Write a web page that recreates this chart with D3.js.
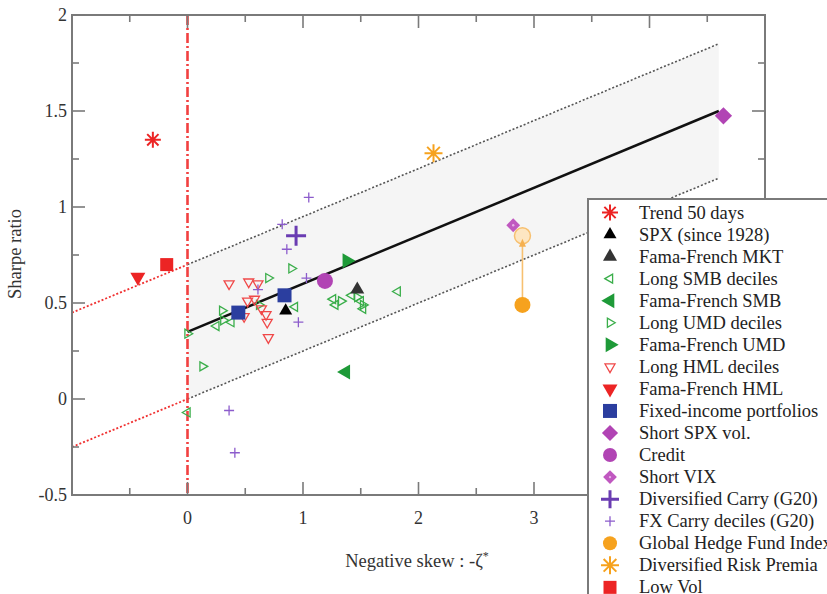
<!DOCTYPE html>
<html><head><meta charset="utf-8">
<script src="https://cdn.jsdelivr.net/npm/d3@7"></script>
<style>
body{margin:0;background:#fff}
text{font-family:"Liberation Serif","Times New Roman",serif}
</style>
</head><body>
<svg id="c" width="827" height="594"></svg>
<script>
// ---------------- data ----------------
const xMajorTicks = [-1, 0, 1, 2, 3, 4, 5];
const xTickLabels = ["", "0", "1", "2", "3", "", ""];
const yMajorTicks = [-0.5, 0, 0.5, 1, 1.5, 2];
const yTickLabels = ["-0.5", "0", "0.5", "1", "1.5", "2"];

const fitX = [0, 4.6];
const fitMid = [0.35, 1.5];
const fitUpper = [0.7, 1.85];
const fitLower = [0.0, 1.15];
const extX = [-1, 0];
const extUpper = [0.45, 0.7];
const extLower = [-0.25, 0.0];

const trend50 = [[-0.30, 1.35]];
const spx1928 = [[0.85, 0.46]];
const ffMKT = [[1.47, 0.57]];
const longSMB = [[0.93, 0.48], [1.26, 0.52], [1.28, 0.49], [1.42, 0.54], [1.50, 0.51], [1.52, 0.47], [1.82, 0.56], [0.38, 0.40], [0.25, 0.38], [0.00, -0.07]];
const ffSMB = [[1.37, 0.14]];
const longUMD = [[0.00, 0.34], [0.13, 0.17], [0.30, 0.46], [0.70, 0.63], [0.90, 0.68], [0.62, 0.49], [0.31, 0.41], [1.33, 0.51], [1.47, 0.53], [1.52, 0.49]];
const ffUMD = [[1.38, 0.72]];
const longHML = [[0.36, 0.60], [0.53, 0.61], [0.61, 0.60], [0.52, 0.51], [0.58, 0.52], [0.64, 0.47], [0.68, 0.44], [0.69, 0.40], [0.70, 0.32], [0.49, 0.43]];
const ffHML = [[-0.43, 0.635]];
const fixedIncome = [[0.44, 0.45], [0.84, 0.54]];
const shortSPX = [[4.64, 1.475]];
const credit = [[1.19, 0.615]];
const shortVIX = [[2.82, 0.905]];
const divCarry = [[0.94, 0.85]];
const fxCarry = [[0.82, 0.91], [0.86, 0.78], [1.05, 1.05], [1.03, 0.63], [0.61, 0.57], [0.96, 0.40], [0.36, -0.06], [0.41, -0.28]];
const ghf = [[2.90, 0.49]];
const ghfTarget = [[2.90, 0.85]];
const drp = [[2.13, 1.28]];
const lowVol = [[-0.18, 0.70]];

const seriesNames = ["Trend 50 days", "SPX (since 1928)", "Fama-French MKT", "Long SMB deciles", "Fama-French SMB",
  "Long UMD deciles", "Fama-French UMD", "Long HML deciles", "Fama-French HML", "Fixed-income portfolios",
  "Short SPX vol.", "Credit", "Short VIX", "Diversified Carry (G20)", "FX Carry deciles (G20)",
  "Global Hedge Fund Index", "Diversified Risk Premia", "Low Vol"];
const seriesData = [trend50, spx1928, ffMKT, longSMB, ffSMB, longUMD, ffUMD, longHML, ffHML, fixedIncome,
  shortSPX, credit, shortVIX, divCarry, fxCarry, ghf, drp, lowVol];

// ---------------- styles ----------------
const RED = "#ec2424", GREEN = "#1e9a38", LGREEN = "#3aae4a", PURP = "#b144b4", CARRY = "#6a3cb2", FXC = "#8c5ccc", ORANGE = "#f6a21e", BLUE = "#2b3e9f";
const markers = [
  {t: "ast", s: 8, c: RED, sw: 2},
  {t: "up", s: 13, c: "#000"},
  {t: "up", s: 14, c: "#333"},
  {t: "left", s: 9, c: LGREEN, open: true},
  {t: "left", s: 15, c: GREEN},
  {t: "right", s: 9, c: LGREEN, open: true},
  {t: "right", s: 15, c: GREEN},
  {t: "down", s: 10, c: "#f04848", open: true},
  {t: "down", s: 15, c: RED},
  {t: "sq", s: 14, c: BLUE},
  {t: "dia", s: 15, c: PURP},
  {t: "circ", s: 8, c: PURP},
  {t: "dia", s: 12, c: "#c058c0", dot: true},
  {t: "plus", s: 20, c: CARRY, sw: 3},
  {t: "plus", s: 10, c: FXC, sw: 1.3},
  {t: "circ", s: 8, c: ORANGE},
  {t: "ast", s: 9, c: ORANGE, sw: 2},
  {t: "sq", s: 13, c: RED}
];

// ---------------- scales ----------------
const L = 72, R = 765, T = 15, B = 495;
const x = d3.scaleLinear().domain([-1, 5]).range([L, R]);
const y = d3.scaleLinear().domain([-0.5, 2]).range([B, T]);
const svg = d3.select("#c");

// band
const bandPts = [[fitX[0], fitLower[0]], [fitX[1], fitLower[1]], [fitX[1], fitUpper[1]], [fitX[0], fitUpper[0]]];
svg.append("path").attr("d", d3.line().x(d => x(d[0])).y(d => y(d[1]))(bandPts) + "Z").attr("fill", "#f5f5f5");

function seg(xs, ys, color, width, dash) {
  svg.append("line").attr("x1", x(xs[0])).attr("y1", y(ys[0])).attr("x2", x(xs[1])).attr("y2", y(ys[1]))
    .attr("stroke", color).attr("stroke-width", width).attr("stroke-dasharray", dash || null);
}
seg(fitX, fitUpper, "#555", 1.6, "2,2");
seg(fitX, fitLower, "#555", 1.6, "2,2");
seg(extX, extUpper, "#f03030", 1.8, "2,2");
seg(extX, extLower, "#f03030", 1.8, "2,2");
seg(fitX, fitMid, "#111", 2.5);

// vertical red dash-dot line at 0
svg.append("line").attr("x1", x(0)).attr("x2", x(0)).attr("y1", T).attr("y2", B)
  .attr("stroke", "#f24040").attr("stroke-width", 2.6).attr("stroke-dasharray", "10,3,2,3");

// marker drawing
function triPts(s, rot) {
  const h = s * Math.sqrt(3) / 2;
  const pts = [[0, -2 * h / 3], [s / 2, h / 3], [-s / 2, h / 3]];
  const a = rot * Math.PI / 180;
  return pts.map(p => [p[0] * Math.cos(a) - p[1] * Math.sin(a), p[0] * Math.sin(a) + p[1] * Math.cos(a)]);
}
function drawMarker(g, m, cx, cy) {
  const fill = m.open ? "none" : m.c;
  const stroke = m.open ? m.c : "none";
  if (m.t === "up" || m.t === "down" || m.t === "left" || m.t === "right") {
    const rot = {up: 0, right: 90, down: 180, left: 270}[m.t];
    const p = triPts(m.s, rot);
    g.append("path").attr("d", "M" + p.map(q => [cx + q[0], cy + q[1]].join(",")).join("L") + "Z")
      .attr("fill", fill).attr("stroke", stroke).attr("stroke-width", 1.3);
  } else if (m.t === "sq") {
    g.append("rect").attr("x", cx - m.s / 2).attr("y", cy - m.s / 2).attr("width", m.s).attr("height", m.s).attr("fill", m.c);
  } else if (m.t === "dia") {
    const r = m.s / 2 * 1.15;
    g.append("path").attr("d", `M${cx},${cy - r}L${cx + r},${cy}L${cx},${cy + r}L${cx - r},${cy}Z`).attr("fill", m.c);
    if (m.dot) g.append("circle").attr("cx", cx).attr("cy", cy).attr("r", 1.2).attr("fill", "#e8b0e8");
  } else if (m.t === "circ") {
    g.append("circle").attr("cx", cx).attr("cy", cy).attr("r", m.s).attr("fill", m.c);
  } else if (m.t === "plus") {
    const r = m.s / 2;
    g.append("path").attr("d", `M${cx - r},${cy}H${cx + r}M${cx},${cy - r}V${cy + r}`).attr("stroke", m.c).attr("stroke-width", m.sw);
  } else if (m.t === "ast") {
    let d = "";
    for (let k = 0; k < 4; k++) {
      const a = k * Math.PI / 4;
      d += `M${cx - m.s * Math.cos(a)},${cy - m.s * Math.sin(a)}L${cx + m.s * Math.cos(a)},${cy + m.s * Math.sin(a)}`;
    }
    g.append("path").attr("d", d).attr("stroke", m.c).attr("stroke-width", m.sw);
  }
}

// GHF arrow to target
const gArrow = svg.append("g");
gArrow.append("line").attr("x1", x(ghf[0][0])).attr("y1", y(ghf[0][1])).attr("x2", x(ghfTarget[0][0])).attr("y2", y(ghfTarget[0][1]))
  .attr("stroke", "#f7c070").attr("stroke-width", 1.6);
gArrow.append("circle").attr("cx", x(ghfTarget[0][0])).attr("cy", y(ghfTarget[0][1])).attr("r", 8)
  .attr("fill", "#fde6c2").attr("stroke", "#f7c070").attr("stroke-width", 1.5);
{
  const ax = x(ghfTarget[0][0]), ay = y(ghfTarget[0][1]) + 3;
  gArrow.append("path").attr("d", `M${ax},${ay}L${ax + 3.5},${ay + 8}L${ax - 3.5},${ay + 8}Z`).attr("fill", "#f5b050");
}

// points (draw order: deciles first, then big markers)
const order = [3, 5, 7, 14, 0, 1, 2, 4, 6, 8, 9, 10, 11, 12, 13, 15, 16, 17];
const gPts = svg.append("g");
order.forEach(i => {
  seriesData[i].forEach(p => drawMarker(gPts, markers[i], x(p[0]), y(p[1])));
});

// frame + ticks
const axisC = "#7a7a7a";
svg.append("rect").attr("x", L).attr("y", T).attr("width", R - L).attr("height", B - T)
  .attr("fill", "none").attr("stroke", axisC).attr("stroke-width", 2);
const gt = svg.append("g").attr("stroke", axisC).attr("stroke-width", 1.6);
xMajorTicks.forEach(v => {
  gt.append("line").attr("x1", x(v)).attr("x2", x(v)).attr("y1", B).attr("y2", B - 13);
  gt.append("line").attr("x1", x(v)).attr("x2", x(v)).attr("y1", T).attr("y2", T + 13);
  if (v < 5) {
    const m = v + 0.5;
    gt.append("line").attr("x1", x(m)).attr("x2", x(m)).attr("y1", B).attr("y2", B - 7);
    gt.append("line").attr("x1", x(m)).attr("x2", x(m)).attr("y1", T).attr("y2", T + 7);
  }
});
yMajorTicks.forEach(v => {
  gt.append("line").attr("x1", L).attr("x2", L + 13).attr("y1", y(v)).attr("y2", y(v));
  gt.append("line").attr("x1", R).attr("x2", R - 13).attr("y1", y(v)).attr("y2", y(v));
  if (v < 2) {
    const m = v + 0.25;
    gt.append("line").attr("x1", L).attr("x2", L + 7).attr("y1", y(m)).attr("y2", y(m));
    gt.append("line").attr("x1", R).attr("x2", R - 7).attr("y1", y(m)).attr("y2", y(m));
  }
});

// tick labels
xMajorTicks.forEach((v, i) => {
  if (!xTickLabels[i]) return;
  svg.append("text").attr("x", x(v)).attr("y", B + 29).attr("text-anchor", "middle")
    .attr("font-size", 18).attr("fill", "#333").text(xTickLabels[i]);
});
yMajorTicks.forEach((v, i) => {
  svg.append("text").attr("x", L - 5).attr("y", y(v) + 6).attr("text-anchor", "end")
    .attr("font-size", 18).attr("fill", "#333").text(yTickLabels[i]);
});

// axis titles
const xt = svg.append("text").attr("x", 417).attr("y", 567).attr("text-anchor", "middle").attr("font-size", 18.5).attr("fill", "#333");
xt.append("tspan").text("Negative skew :  -ζ");
xt.append("tspan").attr("dy", -7).attr("font-size", 12).text("*");
svg.append("text").attr("transform", "translate(21,254) rotate(-90)").attr("text-anchor", "middle")
  .attr("font-size", 18.5).attr("fill", "#333").text("Sharpe ratio");

// legend
const lg = svg.append("g");
lg.append("rect").attr("x", 588).attr("y", 199).attr("width", 260).attr("height", 420)
  .attr("fill", "#fff").attr("stroke", axisC).attr("stroke-width", 2);
seriesNames.forEach((name, i) => {
  const cy = 212.5 + i * 22.05;
  const m = Object.assign({}, markers[i]);
  if (m.t === "circ") m.s = 7;
  if (m.t === "plus" && m.s > 15) m.s = 18;
  if (m.t === "dia" && !m.dot) m.s = 14;
  drawMarker(lg, m, 610, cy);
  lg.append("text").attr("x", 639).attr("y", cy + 6).attr("font-size", 18.5).attr("fill", "#222").text(name);
});
</script>
</body></html>
